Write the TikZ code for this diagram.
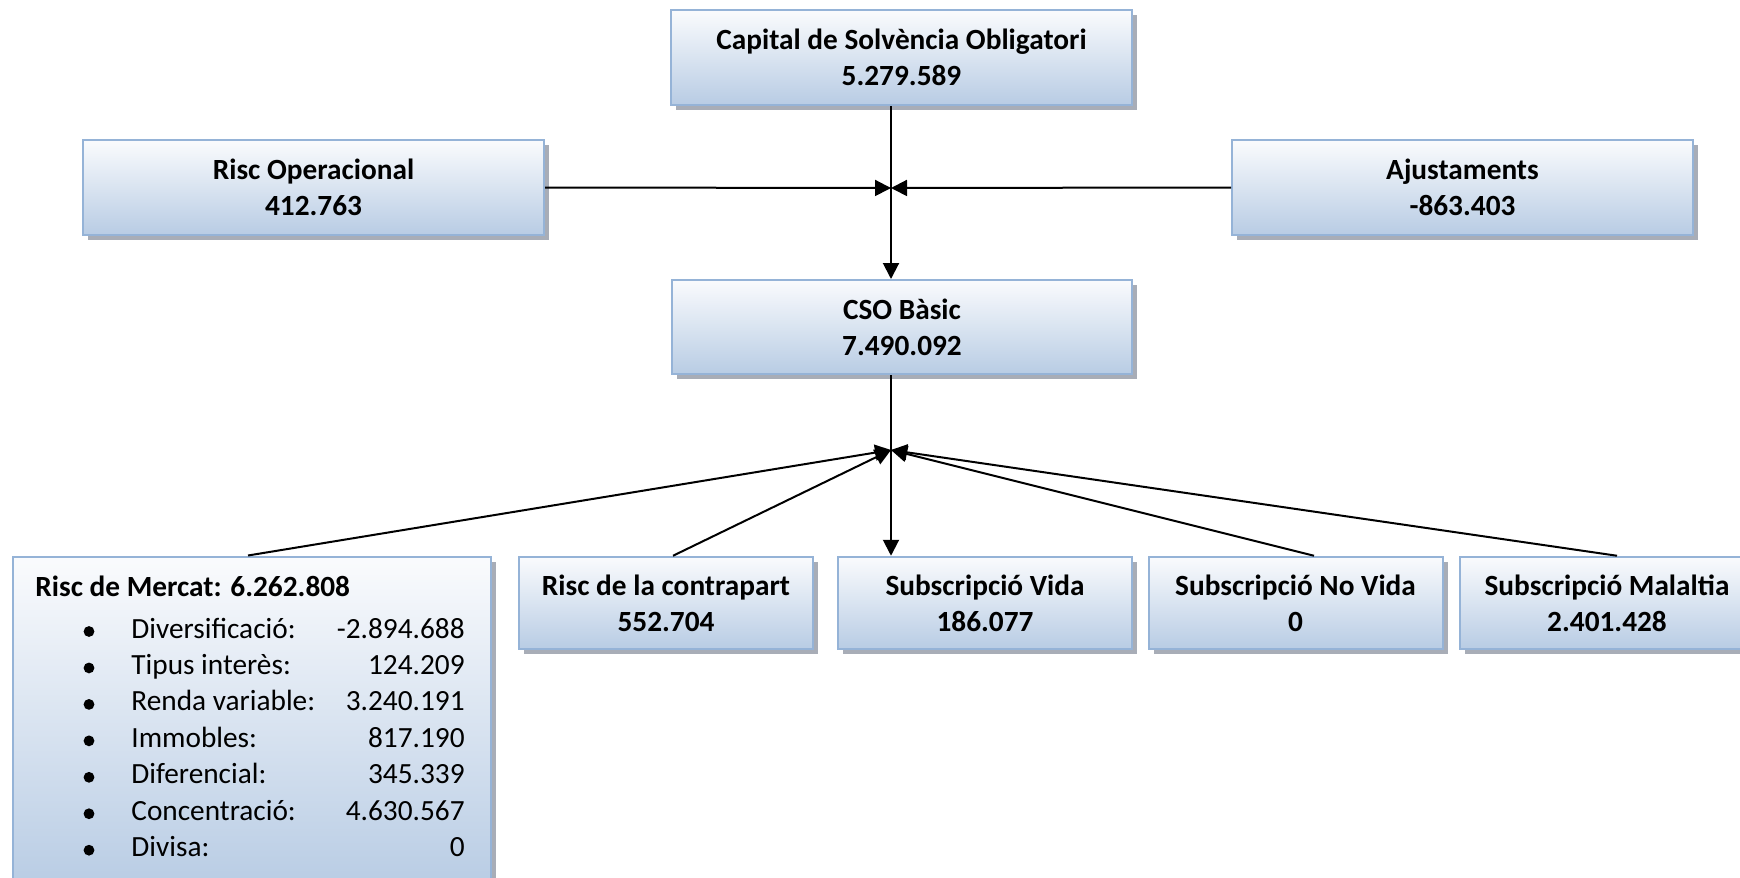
\documentclass[tikz,border=0pt]{standalone}
\usepackage{fontspec}
\setmainfont{Carlito}
\usetikzlibrary{arrows.meta,shadows}
\definecolor{boxborder}{RGB}{149,179,215}
\definecolor{boxtop}{RGB}{250,251,253}
\definecolor{boxbot}{RGB}{184,204,228}
\definecolor{shadowc}{RGB}{168,173,183}
\newcommand{\bodyfont}{\fontsize{14.65}{18}\selectfont}
\begin{document}
\begin{tikzpicture}[x=0.5pt,y=-0.5pt,
  box/.style={draw=boxborder,line width=1pt,top color=boxtop,bottom color=boxbot,
    inner sep=0pt,align=center,font=\bfseries\bodyfont,
    drop shadow={shadow xshift=2.5pt,shadow yshift=-2.5pt,fill=shadowc,opacity=1}},
  widebox/.style={minimum width=230.5pt,minimum height=47.5pt},
  smallbox/.style={minimum width=147pt,minimum height=46.25pt},
  conn/.style={line width=1pt,draw=black},
  arr/.style={conn,-{Triangle[length=8pt,width=8pt]}},
  itemtext/.style={anchor=base west,inner sep=0pt,font=\bodyfont},
  valtext/.style={anchor=base east,inner sep=0pt,font=\bodyfont},
  bulletdot/.style={fill=black,draw=none,circle,inner sep=0pt,minimum size=5.4pt}
]
\clip (0,0) rectangle (1740,878);
\fill[white] (0,0) rectangle (1740,878);

% boxes
\node[box,widebox] (top) at (901.5,57.5) {Capital de Solvència Obligatori\\5.279.589};
\node[box,widebox] (riscop) at (313.5,187.5) {Risc Operacional\\412.763};
\node[box,widebox] (ajust) at (1462.5,187.5) {Ajustaments\\-863.403};
\node[box,minimum width=230pt,minimum height=47pt] (cso) at (902,327) {CSO Bàsic\\7.490.092};
\node[box,minimum width=239pt,minimum height=166pt] (mercat) at (252,722.5) {};
\node[box,smallbox] (contra) at (666,603) {Risc de la contrapart\\552.704};
\node[box,smallbox] (vida) at (985,603) {Subscripció Vida\\186.077};
\node[box,smallbox] (novida) at (1295.5,603) {Subscripció No Vida\\0};
\node[box,smallbox] (malalt) at (1607,603) {Subscripció Malaltia\\2.401.428};

% Risc de Mercat contents
\node[itemtext,font=\bfseries\bodyfont] (mtitle) at (35,596) {Risc de Mercat: 6.262.808};
\foreach \lab/\num [count=\i from 0] in {Diversificació:/-2.894.688,Tipus interès:/124.209,Renda variable:/3.240.191,Immobles:/817.190,Diferencial:/345.339,Concentració:/4.630.567,Divisa:/0}{
  \node[bulletdot] (bul\i) at (89,{638+36.45*\i-6.5}) {};
  \node[itemtext] (lab\i) at (131,{638+36.45*\i}) {\lab};
  \node[valtext] (num\i) at (465,{638+36.45*\i}) {\num};
}

% connectors
\coordinate (mid) at (891,188);
\coordinate (hub) at (891,450);
\draw[arr] (891,0 |- top.south) -- (891,0 |- cso.north);
\draw[arr] (riscop.east) -- (mid);
\draw[arr] (ajust.west) -- (mid);
\draw[arr] (891,0 |- cso.south) -- (891,0 |- vida.north);
\draw[arr] (248,0 |- mercat.north) -- (hub);
\draw[arr] (673,0 |- contra.north) -- (hub);
\draw[arr] (1314,0 |- novida.north) -- (hub);
\draw[arr] (1617,0 |- malalt.north) -- (hub);
\end{tikzpicture}
\end{document}
